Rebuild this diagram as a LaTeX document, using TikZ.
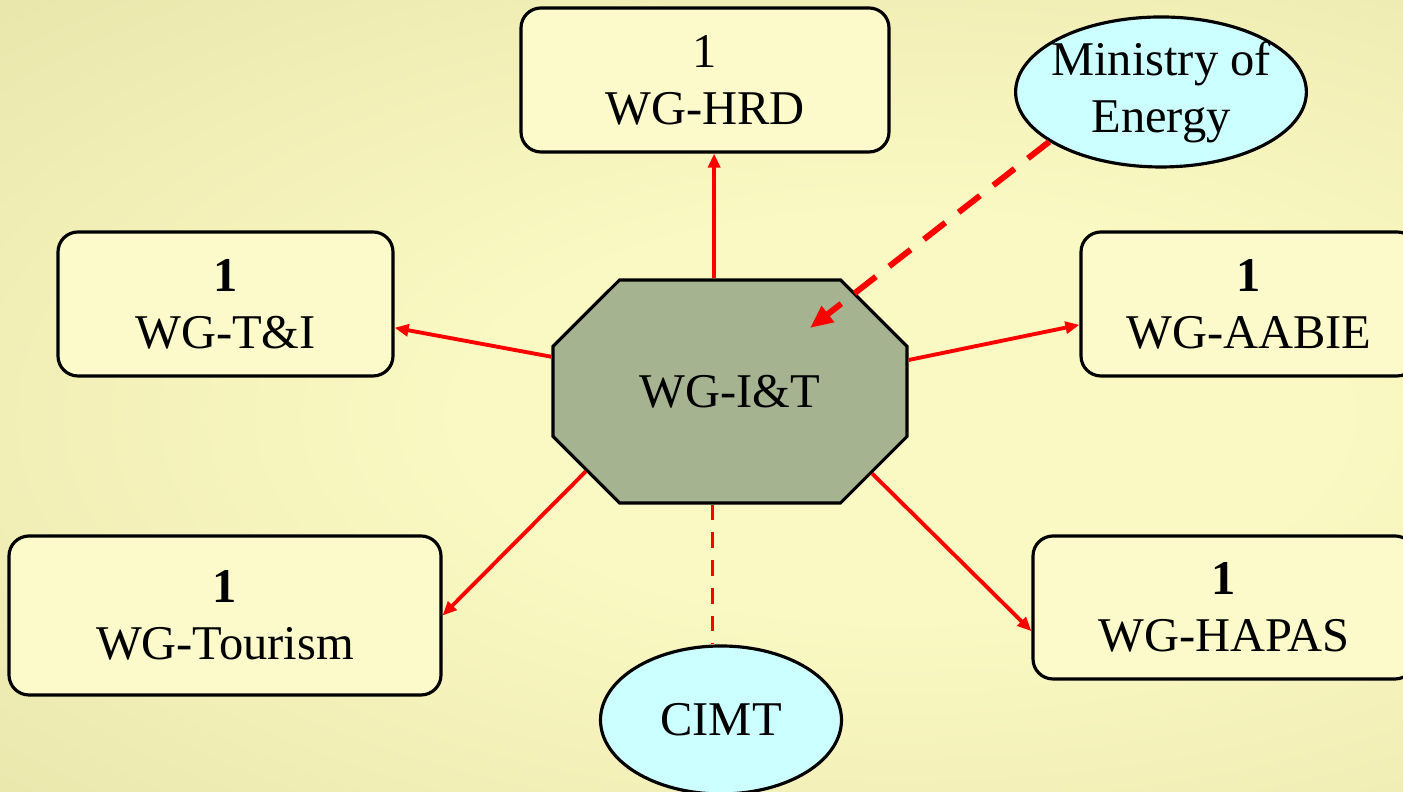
\documentclass[tikz,border=0pt]{standalone}
\usepackage{fontspec}
\setmainfont{Liberation Serif}
\usetikzlibrary{shapes.misc,shapes.geometric,arrows.meta}

\definecolor{bgin}{RGB}{251,249,195}
\definecolor{bgmid}{RGB}{226,223,163}
\definecolor{bgout}{RGB}{170,166,112}
\definecolor{boxfill}{RGB}{252,249,202}
\definecolor{octfill}{RGB}{165,179,145}
\definecolor{ovalfill}{RGB}{204,255,255}
\definecolor{linkred}{RGB}{255,0,0}

\pgfdeclareradialshading{slideglow}{\pgfpoint{0bp}{0bp}}{color(0bp)=(bgin); color(12bp)=(bgin); color(45bp)=(bgmid); color(71bp)=(bgout)}

\newcommand{\wgfont}{\fontsize{13.8}{16.2}\selectfont}

\tikzset{
  wgbox/.style={draw, line width=0.9pt, rounded corners=0.2cm, fill=boxfill,
    align=center, inner sep=0pt, font=\wgfont},
  oval/.style={draw, ellipse, line width=0.9pt, fill=ovalfill, align=center,
    inner sep=0pt, font=\wgfont},
  link/.style={linkred, line width=1.1pt, -{Triangle[length=4pt,width=3.4pt]}},
  guestlink/.style={linkred, line width=1.7pt, dash pattern=on 7.7pt off 4.8pt,
    -{Triangle[length=6.5pt,width=5.5pt]}},
  tielink/.style={linkred, line width=0.9pt, dash pattern=on 4.5pt off 3.4pt}
}

\begin{document}
\begin{tikzpicture}
  \useasboundingbox (0,0) rectangle (14.03,7.92);
  \clip (0,0) rectangle (14.03,7.92);
  \shade[shading=slideglow] (0,-0.4) rectangle (18,7.92);

  % working groups
  \node [wgbox, minimum width=3.68cm, minimum height=1.44cm] (hrd) at (7.05,7.12) {1\\WG-HRD};
  \node [wgbox, minimum width=3.35cm, minimum height=1.44cm] (ti) at (2.255,4.88) {\textbf{1}\\WG-T\&I};
  \node [wgbox, minimum width=3.36cm, minimum height=1.44cm] (aabie) at (12.49,4.88) {\textbf{1}\\WG-AABIE};
  \node [wgbox, minimum width=4.32cm, minimum height=1.59cm] (tourism) at (2.25,1.765) {\textbf{1}\\WG-Tourism};
  \node [wgbox, minimum width=3.82cm, minimum height=1.43cm] (hapas) at (12.24,1.845) {\textbf{1}\\WG-HAPAS};

  \node [draw, chamfered rectangle, line width=0.9pt, fill=octfill, inner sep=0pt,
    minimum width=3.54cm, minimum height=2.23cm,
    chamfered rectangle xsep=0.48cm, chamfered rectangle ysep=0.5cm,
    font=\wgfont] (it) at (7.30,4.005) {WG-I\&T};

  \node [oval, minimum width=2.41cm, minimum height=1.48cm] (cimt) at (7.21,0.72) {CIMT};
  \node [oval, inner xsep=-0.07cm, minimum width=2.88cm, minimum height=1.5cm] (energy) at (11.61,7.00) {Ministry of\\Energy};

  \coordinate (energytip) at ([shift={(0.80,0.635)}]it.center);

  % connectors
  \draw [link] (it.98.7) -- (it.98.7 |- hrd.south);
  \draw [link] (it.169.9) -- (ti.-8.2);
  \draw [link] (it.10.7) -- (aabie.187.8);
  \draw [link] (it.209.3) -- (tourism.east);
  \draw [link] (it.330.7) -- (hapas.187.3);
  \draw [tielink] (it.261.3) -- (it.261.3 |- cimt.north);
  \draw [guestlink] (energy.204) -- (energytip);
\end{tikzpicture}
\end{document}
